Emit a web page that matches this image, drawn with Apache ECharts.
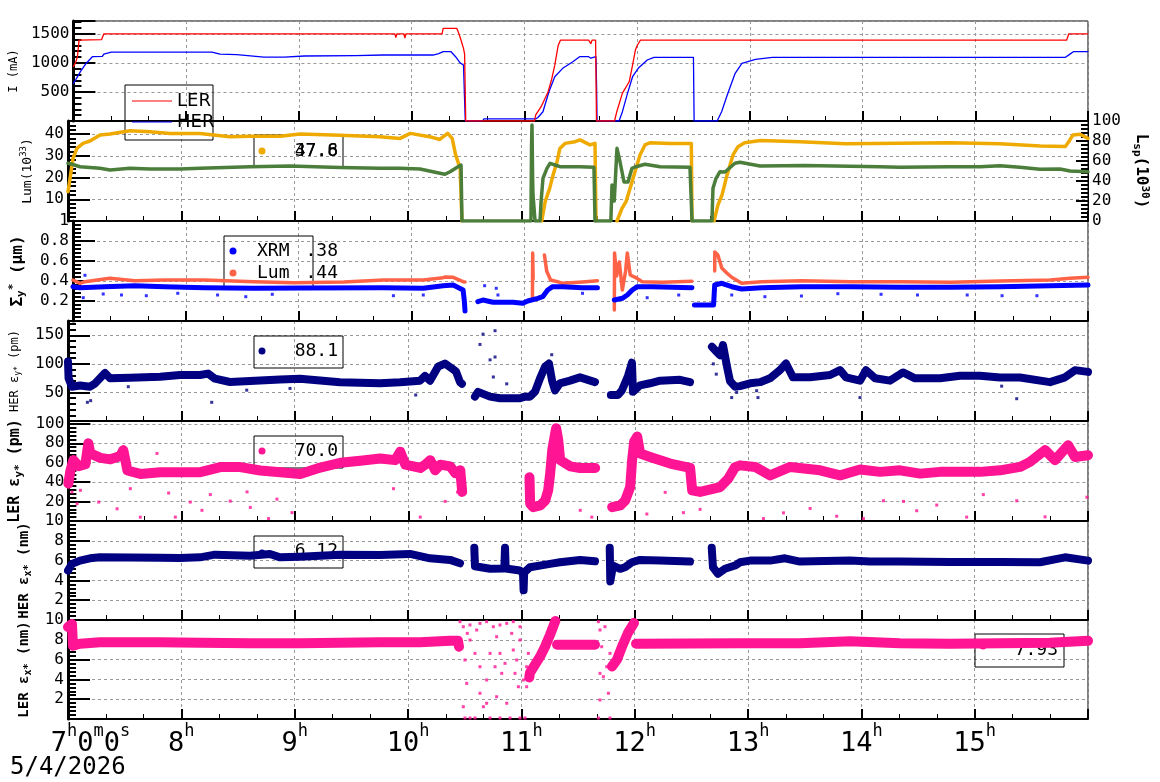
<!DOCTYPE html>
<html>
<head>
<meta charset="utf-8">
<script src="https://cdn.jsdelivr.net/npm/echarts@6/dist/echarts.min.js"></script>
<style>html,body{margin:0;padding:0;background:#fff}#container{width:1160px;height:782px}</style>
</head>
<body>
<div id="container"></div>
<script>
var dom = document.getElementById('container');
var myChart = echarts.init(dom, null, { renderer: 'canvas' });
var FONT = 'DejaVu Sans Mono';

// time in hours (7.0 = 07:00)
const lerCurrent = [[7.00,940],[7.018,1000],[7.035,1100],[7.05,1390],[7.25,1400],[7.27,1500],[9.85,1500],[9.86,1440],[9.87,1500],[9.93,1500],[9.94,1430],[9.95,1500],[10.27,1500],[10.28,1594],[10.40,1594],[10.42,1500],[10.44,1380],[10.46,1250],[10.47,1150],[10.48,0],[11.09,0],[11.10,100],[11.15,250],[11.21,500],[11.24,700],[11.27,960],[11.30,1300],[11.32,1390],[11.57,1390],[11.59,1330],[11.60,1390],[11.632,1390],[11.64,0],[11.80,0],[11.82,160],[11.87,480],[11.93,675],[11.96,960],[11.985,1220],[12.003,1307],[12.03,1390],[13.85,1390],[13.86,1370],[13.87,1390],[15.81,1390],[15.83,1500],[16.0,1500]];
const herCurrent = [[7.00,650],[7.018,700],[7.035,760],[7.062,850],[7.106,975],[7.168,1106],[7.256,1110],[7.27,1150],[7.335,1185],[8.23,1185],[8.30,1150],[8.45,1140],[8.69,1100],[8.87,1100],[9.05,1118],[9.50,1125],[9.75,1135],[10.19,1135],[10.24,1160],[10.28,1192],[10.35,1192],[10.39,1106],[10.43,1000],[10.46,963],[10.476,0],[10.63,0],[10.64,35],[11.10,35],[11.12,60],[11.165,160],[11.218,504],[11.27,762],[11.34,906],[11.43,1020],[11.49,1106],[11.57,1106],[11.59,1080],[11.60,1106],[11.635,1106],[11.64,676],[11.645,0],[11.84,0],[11.87,160],[11.915,475],[11.96,762],[12.01,906],[12.09,1049],[12.15,1095],[12.50,1095],[12.506,0],[12.71,0],[12.75,160],[12.80,447],[12.87,820],[12.93,992],[13.05,1060],[13.2,1095],[15.80,1095],[15.84,1150],[15.87,1192],[16.0,1192]];

const lumTotal = [[7.00,13.5],[7.018,19.6],[7.044,28.8],[7.079,33.4],[7.132,35.7],[7.194,36.8],[7.282,39.6],[7.371,40],[7.547,41.5],[7.724,41],[7.90,40.3],[8.165,40.3],[8.429,38.8],[8.606,39],[8.871,39],[9.047,40],[9.40,39.5],[9.75,38.8],[9.93,38],[10.02,40.3],[10.19,38.8],[10.28,37.5],[10.35,40.3],[10.39,38],[10.42,30.4],[10.46,24.2],[10.476,0],[10.48,'-'],[11.18,0],[11.21,8.9],[11.25,15],[11.28,21.2],[11.315,27.3],[11.34,33.4],[11.385,35.7],[11.474,36.5],[11.518,37.3],[11.606,35],[11.65,35.7],[11.659,0],[11.66,'-'],[11.844,0],[11.888,5.8],[11.924,8.9],[11.959,15],[12.003,22.7],[12.047,30.4],[12.091,35],[12.135,36],[12.312,35.7],[12.50,35.7],[12.506,0],[12.51,'-'],[12.70,0],[12.735,7.4],[12.771,12],[12.815,21.2],[12.868,30.4],[12.912,34.2],[12.97,36],[13.11,37],[13.46,36.5],[13.86,35.5],[14.34,35.8],[14.78,36],[15.22,35.5],[15.58,34.5],[15.80,34.3],[15.824,36],[15.868,39.6],[15.93,39.9],[16.0,38]];
const lumSpecific = [[7.00,57.7],[7.035,56.7],[7.106,54.3],[7.282,52.7],[7.371,51],[7.547,52.7],[7.724,52],[7.988,52],[8.165,52.7],[8.606,54.3],[8.959,55],[9.40,53.5],[9.753,52.7],[9.929,52.7],[10.106,52],[10.282,47.7],[10.326,46.7],[10.371,49.3],[10.441,54.3],[10.468,56],[10.476,0],[11.085,0],[11.09,75],[11.094,96],[11.10,40],[11.103,26],[11.121,0],[11.165,0],[11.174,19],[11.191,42.7],[11.226,52.7],[11.253,57.7],[11.297,56],[11.341,54.3],[11.518,54.3],[11.641,53.7],[11.65,0],[11.79,0],[11.80,36],[11.82,20],[11.844,72.7],[11.871,59],[11.906,39],[11.941,39],[11.976,52.7],[12.012,54.3],[12.091,56.7],[12.224,54.3],[12.488,53.7],[12.506,0],[12.682,0],[12.691,32.7],[12.718,42.7],[12.753,49.3],[12.797,49],[12.885,57.7],[12.929,58.7],[13.106,55],[13.5,55.5],[14.165,54.3],[14.341,53.7],[14.782,54.3],[15.047,54.3],[15.224,55.3],[15.40,53.7],[15.576,51.7],[15.753,52],[15.841,50],[16.0,49.3]];

const sigmaLum = [[7.00,0.41],[7.062,0.377],[7.106,0.393],[7.326,0.427],[7.547,0.403],[7.812,0.41],[8.165,0.41],[8.606,0.393],[8.959,0.383],[9.40,0.39],[9.753,0.41],[10.106,0.41],[10.282,0.433],[10.30,0.44],[10.371,0.437],[10.459,0.393],[10.476,0.39],[10.485,'-'],[11.074,0.24],[11.076,0.68],[11.08,0.42],[11.09,'-'],[11.18,0.66],[11.20,0.5],[11.235,0.41],[11.297,0.393],[11.341,0.377],[11.518,0.39],[11.65,0.403],[11.66,'-'],[11.80,0.11],[11.802,0.68],[11.82,0.45],[11.844,0.59],[11.871,0.31],[11.90,0.5],[11.915,0.68],[11.941,0.46],[11.985,0.437],[12.047,0.393],[12.224,0.387],[12.488,0.397],[12.50,'-'],[12.69,0.5],[12.691,0.69],[12.718,0.66],[12.753,0.53],[12.797,0.48],[12.841,0.437],[12.929,0.377],[13.106,0.393],[13.459,0.403],[13.90,0.393],[14.341,0.393],[14.782,0.387],[15.224,0.40],[15.665,0.41],[15.841,0.427],[16.0,0.437]];
const sigmaXrm = [[7.00,0.343],[7.062,0.333],[7.282,0.343],[7.547,0.353],[7.812,0.343],[8.165,0.333],[8.606,0.327],[9.047,0.33],[9.753,0.333],[10.106,0.327],[10.282,0.353],[10.371,0.36],[10.459,0.31],[10.47,0.2],[10.476,0.1],[10.48,'-'],[10.59,0.193],[10.635,0.21],[10.724,0.187],[10.90,0.187],[10.988,0.177],[11.032,0.2],[11.121,0.227],[11.165,0.243],[11.209,0.31],[11.253,0.343],[11.341,0.343],[11.518,0.333],[11.65,0.333],[11.66,'-'],[11.80,0.21],[11.871,0.227],[11.915,0.26],[11.959,0.31],[12.003,0.343],[12.135,0.343],[12.488,0.333],[12.50,'-'],[12.51,0.16],[12.68,0.16],[12.69,0.36],[12.753,0.377],[12.841,0.343],[12.929,0.32],[13.106,0.333],[13.459,0.343],[13.90,0.343],[14.341,0.337],[14.782,0.337],[15.224,0.343],[15.665,0.353],[16.0,0.36]];
const sigmaXrmStray = [[7.091,0.233],[7.106,0.457],[7.268,0.27],[7.43,0.26],[7.65,0.253],[7.929,0.277],[8.282,0.26],[8.532,0.243],[8.767,0.267],[9.841,0.253],[10.106,0.26],[10.65,0.353],[10.753,0.327],[10.768,0.26],[11.518,0.277],[12.091,0.233],[12.371,0.26],[12.841,0.26],[13.135,0.243],[13.459,0.25],[13.782,0.273],[14.165,0.267],[14.488,0.26],[14.929,0.26],[15.238,0.253],[15.547,0.253]];

const herEmitY = [[7.00,104],[7.005,74.7],[7.018,74],[7.035,60],[7.106,62],[7.194,60],[7.238,65.6],[7.282,74.7],[7.326,84],[7.371,74.7],[7.547,75.8],[7.812,77.6],[7.988,80.5],[8.165,80.5],[8.235,83],[8.297,74],[8.429,68.3],[8.606,70],[8.871,72.8],[9.047,74],[9.40,68],[9.753,66],[9.929,67.8],[10.106,70.6],[10.15,78.8],[10.194,70.6],[10.265,95],[10.326,100.6],[10.388,92],[10.424,86.3],[10.459,68],[10.476,65],[10.485,'-'],[10.591,42.6],[10.618,51],[10.635,48],[10.724,42.6],[10.812,39.7],[10.988,39.7],[11.032,42.6],[11.076,42.6],[11.121,51.3],[11.165,74.7],[11.209,95],[11.244,100.6],[11.271,70.6],[11.297,53.7],[11.341,66],[11.429,70.6],[11.518,76.4],[11.65,68],[11.66,'-'],[11.79,45.5],[11.853,45.5],[11.888,53.7],[11.941,78.8],[11.976,102],[11.985,51],[12.047,62.4],[12.135,66],[12.224,70.6],[12.40,72],[12.488,68],[12.50,'-'],[12.682,130],[12.709,124],[12.753,115],[12.779,133],[12.815,95],[12.841,70],[12.885,60],[12.929,61],[13.018,66],[13.106,68],[13.194,74.7],[13.282,89],[13.335,100.6],[13.397,76.4],[13.547,76.4],[13.724,80.5],[13.812,89],[13.865,76.4],[13.988,70.6],[14.041,89],[14.121,74.7],[14.253,70.6],[14.368,85],[14.474,74.7],[14.694,74.7],[14.871,79.3],[15.047,79.3],[15.224,76],[15.40,76],[15.665,68],[15.797,76.4],[15.885,89],[16.0,86]];
const herEmitYStray = [[7.171,32.7],[7.2,35.6],[7.532,60],[8.268,32.7],[8.577,54],[8.959,57],[10.068,45.5],[10.635,134],[10.662,152],[10.724,107],[10.768,158],[10.768,112],[10.753,77],[10.871,65],[11.091,42],[11.268,116],[11.988,83],[12.694,100],[12.72,82],[12.856,41],[12.9,50],[13.076,53],[13.088,41],[13.988,41],[15.238,61],[15.371,39]];

const lerEmitY = [[7.00,38.5],[7.018,52],[7.044,62.7],[7.09,56.5],[7.15,58.5],[7.176,80],[7.194,69.6],[7.282,65],[7.371,63.5],[7.459,67],[7.485,73],[7.521,52],[7.635,48.5],[7.812,50.3],[8.165,50.3],[8.341,55.5],[8.518,55.5],[8.694,52],[8.871,50.3],[9.047,48.5],[9.224,55],[9.40,60],[9.577,62],[9.753,64.4],[9.885,62.7],[9.929,71.4],[9.974,58],[10.106,54.6],[10.15,58],[10.194,62.7],[10.238,52.3],[10.282,58],[10.371,56.3],[10.415,49.3],[10.459,52.3],[10.476,30],[10.485,'-'],[11.07,45],[11.076,17.8],[11.103,14.3],[11.165,16],[11.209,21.2],[11.235,31.6],[11.253,49],[11.271,73],[11.297,90.3],[11.306,95.5],[11.324,83.4],[11.341,62.7],[11.429,56.3],[11.518,54.6],[11.65,54.6],[11.66,'-'],[11.80,14.3],[11.871,16],[11.915,21.2],[11.959,35],[11.976,62.7],[11.994,81.7],[12.021,87],[12.047,69.6],[12.135,66],[12.312,59.2],[12.488,54.6],[12.506,31.6],[12.576,30],[12.753,35],[12.824,43.5],[12.885,55.5],[12.929,57.3],[13.062,55.7],[13.194,47],[13.371,55.7],[13.635,52.2],[13.812,47],[13.988,53],[14.165,50.6],[14.341,52.2],[14.518,48.8],[14.694,50.6],[14.871,50.6],[15.047,50.6],[15.224,52.2],[15.40,55.7],[15.488,60.9],[15.621,73],[15.709,62.7],[15.824,78],[15.885,66],[16.0,67.8]];
const lerEmitYStray = [[7.032,29.8],[7.106,31.6],[7.077,17.8],[7.268,19.5],[7.43,12.6],[7.547,33.3],[7.635,3.9],[7.782,69.6],[7.885,28.8],[7.944,4],[8.076,19.5],[8.179,11],[8.253,27.2],[8.429,20.5],[8.577,30],[8.606,14],[8.767,2.5],[8.841,22.5],[8.974,8.6],[9.87,33.3],[10.106,4],[10.326,20.2],[10.435,29.8],[11.518,11],[11.62,4],[12.106,7.2],[12.268,29.5],[12.429,8.6],[12.576,12],[13.135,2.5],[13.312,8.4],[13.547,12.9],[13.782,4.9],[14.018,2.5],[14.194,20.9],[14.371,20.2],[14.488,10.6],[14.665,16.4],[14.929,4],[15.076,27.2],[15.371,20.9],[15.621,4.3],[15.99,24.5]];

const herEmitX = [[7.00,5.0],[7.035,5.67],[7.106,6.0],[7.194,6.23],[7.282,6.33],[7.812,6.3],[7.988,6.27],[8.165,6.33],[8.297,6.6],[8.606,6.5],[8.782,6.67],[8.871,6.33],[9.047,6.4],[9.40,6.6],[9.753,6.57],[10.018,6.67],[10.194,6.23],[10.371,6.07],[10.459,5.73],[10.47,'-'],[10.585,7.3],[10.591,5.43],[10.724,5.17],[10.85,5.2],[10.856,7.3],[10.862,5.2],[10.988,5.0],[11.015,4.67],[11.02,3.0],[11.025,4.8],[11.076,5.33],[11.253,5.67],[11.341,5.83],[11.518,6.07],[11.65,5.93],[11.66,'-'],[11.78,7.3],[11.785,3.9],[11.809,5.5],[11.871,5.17],[11.915,5.33],[11.976,5.83],[12.047,6.07],[12.224,6.0],[12.488,5.9],[12.50,'-'],[12.68,7.3],[12.691,5.33],[12.735,4.67],[12.797,5.17],[12.885,5.5],[12.929,5.83],[13.018,6.0],[13.194,6.0],[13.326,6.23],[13.459,5.9],[13.90,6.0],[14.076,5.9],[14.341,5.9],[14.782,5.87],[15.224,5.87],[15.576,5.83],[15.797,6.33],[16.0,6.0]];

const lerEmitX = [[7.00,9.3],[7.035,9.6],[7.044,7.4],[7.106,7.6],[7.282,7.75],[7.812,7.75],[8.165,7.7],[8.606,7.65],[9.047,7.65],[9.753,7.75],[10.106,7.75],[10.371,7.9],[10.441,7.9],[10.45,7.3],[10.46,'-'],[11.07,4.2],[11.076,4.67],[11.121,5.5],[11.165,6.3],[11.209,7.3],[11.253,8.5],[11.30,9.9],[11.31,'-'],[11.315,7.5],[11.65,7.5],[11.66,'-'],[11.80,5.3],[11.844,6.0],[11.888,7.3],[11.941,8.7],[11.994,9.7],[12.00,'-'],[12.012,7.6],[12.929,7.65],[13.459,7.65],[13.90,7.85],[14.341,7.65],[14.782,7.6],[15.224,7.65],[15.665,7.7],[16.0,7.9]];
const lerEmitXStray = [[10.459,9.83],[10.488,9.32],[10.523,8.65],[10.547,7.98],[10.591,6.63],[10.503,5.96],[10.635,5.28],[10.694,3.94],[10.753,9.32],[10.782,8.31],[10.812,6.63],[10.827,4.61],[10.871,9.66],[10.915,8.65],[10.929,6.97],[10.959,5.96],[10.988,7.98],[11.018,3.94],[11.047,3.26],[10.635,2.6],[10.694,1.59],[10.782,2.25],[10.871,1.59],[10.518,3.6],[10.488,1.24],[10.665,1.24],[10.606,8.99],[10.724,6.63],[10.768,5.28],[10.856,5.62],[10.944,4.61],[10.974,3.26],[10.503,0.1],[10.591,0.1],[10.724,0.1],[10.812,0.1],[10.90,0.1],[10.988,0.1],[11.032,0.1],[10.547,0.1],[11.047,5.28],[11.062,6.63],[10.635,9.66],[10.694,9.83],[10.812,9.5],[10.929,9.83],[10.988,9.32],[10.547,9.5],[11.68,9.83],[11.694,8.99],[11.709,7.3],[11.694,4.61],[11.724,4.27],[11.753,5.28],[11.768,2.6],[11.694,1.92],[11.68,0.1],[11.782,0.1],[11.738,9.32],[11.782,6.63]];

// legend readouts
const lumReadout = ['37.8', '47.6'];
const sigmaReadout = ['.38', '.44'];
const emitReadout = ['88.1', '70.0', '6.12', '7.93'];
const hourTicks = [7, 8, 9, 10, 11, 12, 13, 14, 15];

const tops = [21, 121, 221, 321, 421, 521, 620];
const heights = [100, 100, 100, 100, 100, 99, 99];

const grids = tops.map((t, i) => ({
  left: 68, right: 72, top: t, height: heights[i],
  show: true, borderColor: '#000', borderWidth: 1, backgroundColor: 'transparent'
}));

const xAxes = tops.map((t, i) => {
  const last = i === tops.length - 1;
  return {
    type: 'value', gridIndex: i, min: 7, max: 16, interval: 1,
    axisLine: { show: true, onZero: false, lineStyle: { color: '#000', width: 2 } },
    axisTick: { show: true, inside: true, length: 10, lineStyle: { color: '#000', width: 2 } },
    minorTick: { show: true, splitNumber: 3, length: 5, lineStyle: { color: '#000', width: 1 } },
    splitLine: { show: true, lineStyle: { color: '#999', type: [3, 3], width: 1 } },
    axisLabel: last ? {
      show: true, margin: 4,
      formatter: function (v) {
        if (v === 7) return '{pad|}{b|7}{s|h}{b|0}{s|m}{b|0}{s|s}';
        if (hourTicks.indexOf(v) >= 0) return '{b|' + v + '}{s|h}';
        return '';
      },
      rich: {
        b: { fontFamily: FONT, fontSize: 27, color: '#000', lineHeight: 34, verticalAlign: 'bottom' },
        s: { fontFamily: FONT, fontSize: 17, color: '#000', lineHeight: 34, verticalAlign: 'top' },
        pad: { width: 45 }
      }
    } : { show: false }
  };
});

function stepFmt(step, dec) {
  return function (v) {
    if (v <= 0) return '';
    const k = v / step;
    if (Math.abs(k - Math.round(k)) > 1e-6) return '';
    return dec ? String(+v.toFixed(dec)) : String(Math.round(v));
  };
}

const nameRich = function (size, weight) {
  return {
    sub: { fontFamily: FONT, fontSize: Math.round(size * 0.7), fontWeight: weight, color: '#000', verticalAlign: 'bottom', padding: [size * 0.45, 0, 0, 0] },
    sup: { fontFamily: FONT, fontSize: Math.round(size * 0.7), fontWeight: weight, color: '#000', verticalAlign: 'top', padding: [0, 0, size * 0.5, 0] }
  };
};

function leftAxis(grid, min, max, interval, fmt, name, gap, size, weight) {
  return {
    type: 'value', gridIndex: grid, position: 'left', min: min, max: max, interval: interval,
    name: name, nameLocation: 'middle', nameGap: gap, nameRotate: 90,
    nameTextStyle: { fontFamily: FONT, fontSize: size, fontWeight: weight, color: '#000', rich: nameRich(size, weight) },
    axisLine: { show: true, lineStyle: { color: '#000', width: 3 } },
    axisTick: { show: true, inside: true, length: 22, lineStyle: { color: '#000', width: 2 } },
    minorTick: { show: true, splitNumber: 5, length: 8, lineStyle: { color: '#000', width: 2 } },
    splitLine: { show: true, lineStyle: { color: '#999', type: [3, 3], width: 1 } },
    axisLabel: { show: true, margin: 4, fontFamily: FONT, fontSize: 16, color: '#000', formatter: fmt, showMinLabel: true, showMaxLabel: true }
  };
}

const yAxes = [
  leftAxis(0, 0, 1720, 500, stepFmt(500), 'I (mA)', 46, 12, 'normal'),
  leftAxis(1, 0, 46, 10, stepFmt(10), 'Lum(10{sup|33})', 29, 13, 'normal'),
  {
    type: 'value', gridIndex: 1, position: 'right', min: 0, max: 100, interval: 20,
    name: 'L{sub|sp}(10{sup|30})', nameLocation: 'middle', nameGap: 36, nameRotate: -90,
    nameTextStyle: { fontFamily: FONT, fontSize: 16, fontWeight: 'bold', color: '#000', rich: nameRich(16, 'bold') },
    axisLine: { show: true, lineStyle: { color: '#000', width: 1 } },
    axisTick: { show: true, inside: true, length: 12, lineStyle: { color: '#000', width: 2 } },
    minorTick: { show: true, splitNumber: 5, length: 7, lineStyle: { color: '#000', width: 2 } },
    splitLine: { show: false },
    axisLabel: { show: true, margin: 4, fontFamily: FONT, fontSize: 16, color: '#000' }
  },
  leftAxis(2, 0, 1, 0.2, stepFmt(0.2, 1), 'Σ{sub|y}{sup|*} (μm)', 46, 16, 'bold'),
  leftAxis(3, 0, 175, 50, stepFmt(50), 'HER ε{sub|y*} (pm)', 46, 12, 'normal'),
  leftAxis(4, 0, 103, 20, stepFmt(20), 'LER ε{sub|y*} (pm)', 44, 15, 'bold'),
  leftAxis(5, 0, 10, 2, stepFmt(2), 'HER ε{sub|x*} (nm)', 35, 14, 'bold'),
  leftAxis(6, 0, 10, 2, stepFmt(2), 'LER ε{sub|x*} (nm)', 35, 14, 'bold')
];

function line(data, xi, yi, color, width) {
  return {
    type: 'line', data: data, xAxisIndex: xi, yAxisIndex: yi, showSymbol: false, symbol: 'none',
    connectNulls: false, lineStyle: { color: color, width: width, join: 'round', cap: 'round' },
    itemStyle: { color: color }, z: 3, silent: true
  };
}
function dots(data, xi, yi, color) {
  return {
    type: 'scatter', data: data, xAxisIndex: xi, yAxisIndex: yi, symbol: 'rect', symbolSize: 3,
    itemStyle: { color: color }, z: 3, silent: true
  };
}

const RED = '#ff0000', BLUE = '#0000ff', ORANGE = '#eeaa00', GREEN = '#4b7d3b',
  TOMATO = '#ff6347', NAVY = '#000080', PINK = '#ff1493';

const series = [
  line(herCurrent, 0, 0, BLUE, 1.3),
  line(lerCurrent, 0, 0, RED, 1.3),
  line(lumTotal, 1, 1, ORANGE, 3.5),
  line(lumSpecific, 1, 2, GREEN, 3.5),
  line(sigmaLum, 2, 3, TOMATO, 3.5),
  line(sigmaXrm, 2, 3, BLUE, 5),
  dots(sigmaXrmStray, 2, 3, BLUE),
  line(herEmitY, 3, 4, NAVY, 8),
  dots(herEmitYStray, 3, 4, NAVY),
  line(lerEmitY, 4, 5, PINK, 10),
  dots(lerEmitYStray, 4, 5, PINK),
  line(herEmitX, 5, 6, NAVY, 8),
  line(lerEmitX, 6, 7, PINK, 10),
  dots(lerEmitXStray, 6, 7, PINK)
];

function box(x, y, w, h) {
  return { type: 'rect', z: 1, shape: { x: x, y: y, width: w, height: h }, style: { fill: 'transparent', stroke: '#000', lineWidth: 1 } };
}
function dot(x, y, color) {
  return { type: 'circle', z: 1, shape: { cx: x, cy: y, r: 3.5 }, style: { fill: color } };
}
function txt(x, y, s, align, family, size) {
  return { type: 'text', z: 1, x: x, y: y, style: { text: s, fill: '#000', font: size + 'px "' + family + '"', align: align, verticalAlign: 'middle' } };
}

const graphics = [
  box(125, 85, 88, 55),
  { type: 'line', z: 1, shape: { x1: 132, y1: 101, x2: 172, y2: 101 }, style: { stroke: RED, lineWidth: 1 } },
  txt(177, 101, 'LER', 'left', 'DejaVu Sans', 18),
  { type: 'line', z: 1, shape: { x1: 132, y1: 122, x2: 172, y2: 122 }, style: { stroke: BLUE, lineWidth: 1 } },
  txt(177, 122, 'HER', 'left', 'DejaVu Sans', 18),

  box(254, 135, 89, 32), dot(262, 151, ORANGE),
  txt(338, 151, lumReadout[0], 'right', FONT, 18),
  txt(338, 151, lumReadout[1], 'right', FONT, 18),

  box(224, 236, 89, 53),
  dot(233, 251, BLUE), txt(257, 251, 'XRM', 'left', FONT, 18), txt(338, 251, sigmaReadout[0], 'right', FONT, 18),
  dot(233, 273, TOMATO), txt(257, 273, 'Lum', 'left', FONT, 18), txt(338, 273, sigmaReadout[1], 'right', FONT, 18),

  box(254, 336, 89, 32), dot(262, 351, NAVY), txt(338, 351, emitReadout[0], 'right', FONT, 18),
  box(254, 436, 89, 32), dot(262, 451, PINK), txt(338, 451, emitReadout[1], 'right', FONT, 18),
  box(254, 536, 89, 32), dot(262, 553, NAVY), txt(338, 551, emitReadout[2], 'right', FONT, 18),
  box(975, 634, 89, 33), dot(983, 646, PINK), txt(1058, 650, emitReadout[3], 'right', FONT, 18),

  txt(10, 768, '5/4/2026', 'left', FONT, 24)
];

var option = {
  animation: false,
  backgroundColor: '#fff',
  grid: grids,
  xAxis: xAxes,
  yAxis: yAxes,
  series: series,
  graphic: { elements: graphics }
};

myChart.setOption(option);
window.addEventListener('resize', myChart.resize);
</script>
</body>
</html>
